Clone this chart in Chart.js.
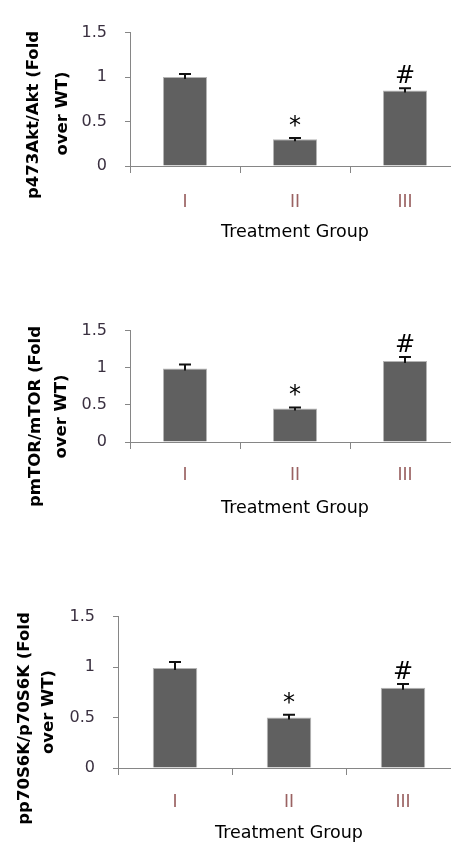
<!DOCTYPE html>
<html><head><meta charset="utf-8">
<script src="https://cdn.jsdelivr.net/npm/chart.js@4.4.0/dist/chart.umd.min.js"></script>
<style>
html,body{margin:0;padding:0;background:#fff;overflow:hidden;width:451px;height:844px;}
canvas.panel{position:absolute;left:0;}
</style></head><body>
<canvas id="c1" class="panel" width="460" height="241" style="top:5px;width:460px;height:241px"></canvas>
<canvas id="c2" class="panel" width="460" height="219" style="top:303px;width:460px;height:219px"></canvas>
<canvas id="c3" class="panel" width="460" height="259" style="top:589px;width:460px;height:259px"></canvas>
<script>
// ---- data ----
const categories = ['I', 'II', 'III'];
const markers = ['', '*', '#'];
const xAxisTitle = 'Treatment Group';
const yTickLabels = ['0', '0.5', '1', '1.5'];

const aktValues = [1.00, 0.30, 0.85];
const aktErrors = [0.035, 0.015, 0.025];
const aktTitle = ['p473Akt/Akt (Fold', 'over WT)'];

const mtorValues = [0.99, 0.45, 1.09];
const mtorErrors = [0.055, 0.015, 0.055];
const mtorTitle = ['pmTOR/mTOR (Fold', 'over WT)'];

const s6kValues = [0.99, 0.50, 0.795];
const s6kErrors = [0.06, 0.027, 0.038];
const s6kTitle = ['pp70S6K/p70S6K (Fold', 'over WT)'];

const yMin = 0, yMax = 1.5, yStep = 0.5;

const FONT = "'DejaVu Sans', sans-serif";

const errorBarPlugin = {
  id: 'errorBars',
  afterDatasetsDraw(chart, args, opts) {
    const ctx = chart.ctx;
    const ys = chart.scales.y;
    const ds = chart.data.datasets[0];
    const meta = chart.getDatasetMeta(0);
    ctx.save();
    ctx.strokeStyle = '#111';
    ctx.lineWidth = 2;
    meta.data.forEach((bar, i) => {
      const v = ds.data[i], e = ds.errors[i];
      const yTop = ys.getPixelForValue(v + e);
      const yBase = ys.getPixelForValue(v);
      const x = Math.round(bar.x);
      ctx.beginPath();
      ctx.moveTo(x, yBase + 2); ctx.lineTo(x, yTop);
      ctx.moveTo(x - opts.cap, yTop); ctx.lineTo(x + opts.cap, yTop);
      ctx.stroke();
      const m = ds.markers[i];
      if (m) {
        ctx.fillStyle = '#000';
        ctx.font = '24px ' + FONT;
        ctx.textAlign = 'center';
        ctx.textBaseline = 'alphabetic';
        ctx.fillText(m, x, yTop - opts.gap);
      }
    });
    ctx.restore();
  }
};

const yTitlePlugin = {
  id: 'yTitle',
  afterDraw(chart, args, opts) {
    const ctx = chart.ctx;
    ctx.save();
    ctx.fillStyle = '#000';
    ctx.font = 'bold 16.5px ' + FONT;
    ctx.textAlign = 'center';
    ctx.textBaseline = 'middle';
    opts.lines.forEach((line, k) => {
      ctx.save();
      ctx.translate(opts.pos[k][0], opts.pos[k][1]);
      ctx.rotate(-Math.PI / 2);
      ctx.fillText(line, 0, 0);
      ctx.restore();
    });
    ctx.restore();
  }
};

function makeChart(id, values, errors, title, L) {
  return new Chart(document.getElementById(id), {
    type: 'bar',
    data: {
      labels: categories,
      datasets: [{
        data: values,
        errors: errors,
        markers: markers,
        backgroundColor: '#606060',
        borderColor: '#b4b4b4',
        borderWidth: 1,
        barPercentage: L.barPct,
        categoryPercentage: 1.0
      }]
    },
    options: {
      responsive: false,
      animation: false,
      devicePixelRatio: 1,
      layout: { padding: { top: 12, left: 0, right: 0, bottom: 0 } },
      plugins: {
        legend: { display: false },
        tooltip: { enabled: false },
        errorBars: { cap: 6, gap: 5 },
        yTitle: { lines: title, pos: L.titlePos }
      },
      scales: {
        x: {
          grid: { display: true, drawOnChartArea: false, drawTicks: true, tickLength: 7, color: '#868686', offset: true },
          border: { display: true, color: '#868686', width: 1 },
          ticks: { color: '#9a6262', font: { family: FONT, size: 17 }, padding: L.xPad },
          title: { display: true, text: xAxisTitle, color: '#000', font: { family: FONT, size: 17.5 }, padding: { top: 0, bottom: L.titlePadB } },
          afterFit: s => { s.height = 80; }
        },
        y: {
          min: yMin, max: yMax,
          grid: { display: true, drawOnChartArea: false, drawTicks: true, tickLength: 5, color: '#868686' },
          border: { display: true, color: '#868686', width: 1 },
          ticks: { stepSize: yStep, color: '#3a3040', font: { family: FONT, size: 16 }, padding: 18,
                   callback: (v, i) => yTickLabels[i] },
          afterFit: s => { s.width = L.yWidth; }
        }
      }
    },
    plugins: [errorBarPlugin, yTitlePlugin]
  });
}

makeChart('c1', aktValues, aktErrors, aktTitle,
  { yWidth: 130, xPad: 19, titlePadB: 3.5, barPct: 0.4, titlePos: [[34, 110], [62.5, 108.5]] });
makeChart('c2', mtorValues, mtorErrors, mtorTitle,
  { yWidth: 130, xPad: 16, titlePadB: 3.5, barPct: 0.4, titlePos: [[35.5, 113.5], [61.5, 113.5]] });
makeChart('c3', s6kValues, s6kErrors, s6kTitle,
  { yWidth: 118, xPad: 17, titlePadB: 4.5, barPct: 0.39, titlePos: [[25, 129.5], [49, 123]] });
</script>
</body></html>
